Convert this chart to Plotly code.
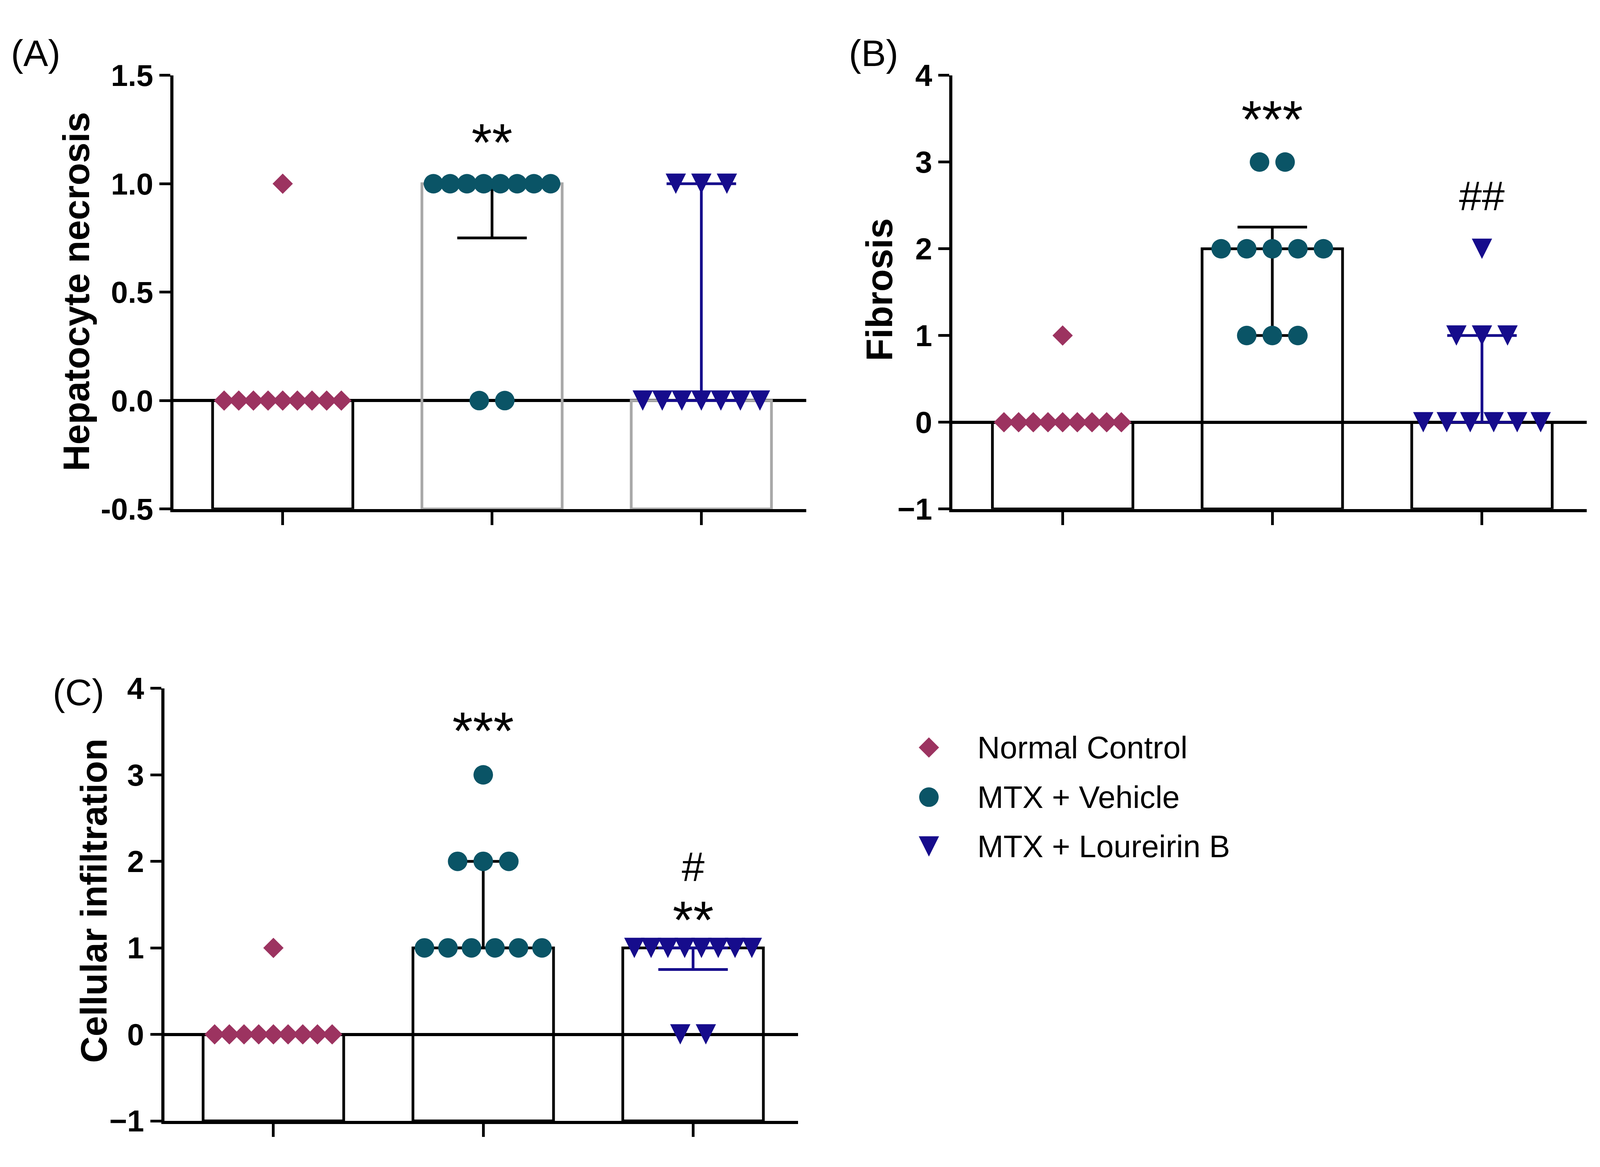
import plotly.graph_objects as go

# groups, colours and marker shapes (GraphPad-style column scatter over median bars)
groups = ["Normal Control", "MTX + Vehicle", "MTX + Loureirin B"]
group_colors = ["#9C3360", "#0A5466", "#160C8C"]
group_symbols = ["diamond", "circle", "arrow-down"]
group_sizes = [40, 50, 52]
group_standoff = [0, 0, 26]   # centres the arrow-shaped triangle on its value
err_colors = ["black", "black", "#160C8C"]

# (A) hepatocyte necrosis scores, n=10 per group
necrosis_normal = [1, 0, 0, 0, 0, 0, 0, 0, 0, 0]
necrosis_vehicle = [1, 1, 1, 1, 1, 1, 1, 1, 0, 0]
necrosis_lour = [1, 1, 1, 0, 0, 0, 0, 0, 0, 0]
necrosis_median = [0, 1, 0]
necrosis_q1 = [0, 0.75, 0]
necrosis_q3 = [0, 1, 1]

# (B) fibrosis scores
fibrosis_normal = [1, 0, 0, 0, 0, 0, 0, 0, 0, 0]
fibrosis_vehicle = [3, 3, 2, 2, 2, 2, 2, 1, 1, 1]
fibrosis_lour = [2, 1, 1, 1, 0, 0, 0, 0, 0, 0]
fibrosis_median = [0, 2, 0]
fibrosis_q1 = [0, 1, 0]
fibrosis_q3 = [0, 2.25, 1]

# (C) cellular infiltration scores
infil_normal = [1, 0, 0, 0, 0, 0, 0, 0, 0, 0]
infil_vehicle = [3, 2, 2, 2, 1, 1, 1, 1, 1, 1]
infil_lour = [1, 1, 1, 1, 1, 1, 1, 1, 0, 0]
infil_median = [0, 1, 1]
infil_q1 = [0, 1, 0.75]
infil_q3 = [0, 2, 1]

necrosis_ticks = [-0.5, 0.0, 0.5, 1.0, 1.5]
necrosis_ticktext = ["-0.5", "0.0", "0.5", "1.0", "1.5"]
score_ticks = [-1, 0, 1, 2, 3, 4]
score_ticktext = ["\u22121", "0", "1", "2", "3", "4"]

# significance marks: (group index, y, lines of text)
necrosis_marks = [(1, 1.19, ["**"])]
fibrosis_marks = [(1, 3.49, ["***"]), (2, 2.61, ["##"])]
infil_marks = [(1, 3.51, ["***"]), (2, 1.59, ["#", "**"])]

FONT = "Liberation Sans, Arial"

# the browser photographs a 4096-wide area; body margin is 8px
REF_W, REF_H = 4363, 2987
FRAME_W, FRAME_H = 4096, 2987
W, H = FRAME_W - 16, FRAME_H - 16


def px(xr):
    # reference pixel column -> paper x
    return (xr / REF_W * FRAME_W - 8) / W


def py(yr):
    # reference pixel row (from top) -> paper y
    return 1 - (yr / REF_H * FRAME_H - 8) / H


def mark_size(s):
    return 105 if "#" in s else 135


def column_offsets(vals):
    # spread points with the same score side by side, like a GraphPad scatter
    counts = {}
    for v in vals:
        counts[v] = counts.get(v, 0) + 1
    seen = {}
    out = []
    for v in vals:
        k = counts[v]
        i = seen.get(v, 0)
        seen[v] = i + 1
        step = 0.0 if k == 1 else min(0.122, 0.56 / (k - 1))
        out.append((i - (k - 1) / 2) * step)
    return out


fig = go.Figure()

panels = [
    dict(ax="", data=[necrosis_normal, necrosis_vehicle, necrosis_lour],
         med=necrosis_median, q1=necrosis_q1, q3=necrosis_q3, ymin=-0.5, ymax=1.5,
         barlines=["black", "#A8A8A8", "#A8A8A8"], marks=necrosis_marks,
         xdom=[px(473), px(2199)], ydom=[py(1297), py(153)], xr=[-0.522, 2.502],
         tickvals=necrosis_ticks, ticktext=necrosis_ticktext),
    dict(ax="2", data=[fibrosis_normal, fibrosis_vehicle, fibrosis_lour],
         med=fibrosis_median, q1=fibrosis_q1, q3=fibrosis_q3, ymin=-1, ymax=4,
         barlines=["black", "black", "black"], marks=fibrosis_marks,
         xdom=[px(2597), px(4327)], ydom=[py(1297), py(153)], xr=[-0.526, 2.50],
         tickvals=score_ticks, ticktext=score_ticktext),
    dict(ax="3", data=[infil_normal, infil_vehicle, infil_lour],
         med=infil_median, q1=infil_q1, q3=infil_q3, ymin=-1, ymax=4,
         barlines=["black", "black", "black"], marks=infil_marks,
         xdom=[px(448), px(2176)], ydom=[py(2911), py(1770)], xr=[-0.52, 2.50],
         tickvals=score_ticks, ticktext=score_ticktext),
]

annotations = []

for p in panels:
    xa = "x" + p["ax"]
    ya = "y" + p["ax"]

    # median bars, drawn up from the bottom of the axis
    for i in range(3):
        fig.add_trace(go.Bar(
            x=[i], y=[p["med"][i] - p["ymin"]], base=p["ymin"], width=0.67,
            marker=dict(color="rgba(255,255,255,0)",
                        line=dict(color=p["barlines"][i], width=7)),
            xaxis=xa, yaxis=ya, showlegend=False, hoverinfo="skip"))

    # interquartile range whiskers
    for i in range(3):
        if p["q1"][i] == p["q3"][i]:
            continue
        fig.add_trace(go.Scatter(
            x=[i], y=[p["med"][i]], mode="markers",
            marker=dict(size=1, color="rgba(0,0,0,0)"),
            error_y=dict(type="data", symmetric=False,
                         array=[p["q3"][i] - p["med"][i]],
                         arrayminus=[p["med"][i] - p["q1"][i]],
                         color=err_colors[i], thickness=7, width=89),
            xaxis=xa, yaxis=ya, showlegend=False, hoverinfo="skip"))

    # individual animals
    for i, vals in enumerate(p["data"]):
        offs = column_offsets(vals)
        fig.add_trace(go.Scatter(
            x=[i + o for o in offs], y=vals, mode="markers", name=groups[i],
            marker=dict(symbol=group_symbols[i], size=group_sizes[i], opacity=1,
                        standoff=group_standoff[i],
                        color=group_colors[i], line=dict(width=0)),
            xaxis=xa, yaxis=ya, showlegend=False))

    for gi, yv, lines in p["marks"]:
        if len(lines) == 1:
            txt, fsize = lines[0], mark_size(lines[0])
        else:
            # stacked marks as one text so the lines keep a fixed spacing
            txt = "<br>".join('<span style="font-size:%dpx">%s</span>' % (mark_size(s), s)
                              for s in lines)
            fsize = 112
        annotations.append(dict(x=gi, y=yv, xref=xa, yref=ya, text=txt, showarrow=False,
                                xanchor="center", yanchor="middle",
                                font=dict(family=FONT, size=fsize, color="black")))

    yax = dict(domain=p["ydom"], range=[p["ymin"], p["ymax"]], anchor=xa,
               showline=True, linecolor="black", linewidth=8,
               ticks="outside", ticklen=28, tickwidth=7, tickcolor="black",
               tickvals=p["tickvals"], ticktext=["<b>%s</b>" % t for t in p["ticktext"]],
               showgrid=False,
               zeroline=True, zerolinecolor="black", zerolinewidth=8,
               tickfont=dict(family=FONT, size=78, color="black"))
    xax = dict(domain=p["xdom"], range=p["xr"], anchor=ya,
               showline=True, linecolor="black", linewidth=8,
               ticks="outside", ticklen=33, tickwidth=7, tickcolor="black",
               tickvals=[0, 1, 2], ticktext=["", "", ""],
               showgrid=False, zeroline=False)
    fig.update_layout(**{"xaxis" + p["ax"]: xax, "yaxis" + p["ax"]: yax})

# legend drawn by hand (own small axis, clear of the panels) so the symbols keep their size
legend_y = [py(1926), py(2057), py(2187)]
leg_x0, leg_x1 = 0.55, 0.80
leg_y0, leg_y1 = 0.15, 0.45
for i in range(3):
    fig.add_trace(go.Scatter(
        x=[px(2533)], y=[legend_y[i]], mode="markers",
        marker=dict(symbol=group_symbols[i], size=group_sizes[i], color=group_colors[i],
                    standoff=group_standoff[i], opacity=1, line=dict(width=0)),
        xaxis="x4", yaxis="y4", showlegend=False, hoverinfo="skip"))
    annotations.append(dict(x=px(2663), y=legend_y[i], xref="paper", yref="paper",
                            text=groups[i], xanchor="left", yanchor="middle", showarrow=False,
                            font=dict(family=FONT, size=80, color="black")))

# axis titles and panel letters
titles = [("Hepatocyte necrosis", 209, 724),
          ("Fibrosis", 2399, 718),
          ("Cellular infiltration", 256, 2330)]
for txt, xr, yr in titles:
    annotations.append(dict(x=px(xr), y=py(yr), xref="paper", yref="paper",
                            text="<b>%s</b>" % txt, textangle=-90,
                            xanchor="center", yanchor="middle", showarrow=False,
                            font=dict(family=FONT, size=94, color="black")))
for txt, xr, yr in [("(A)", 97, 95), ("(B)", 2382, 95), ("(C)", 214, 1781)]:
    annotations.append(dict(x=px(xr), y=py(yr), xref="paper", yref="paper", text=txt,
                            showarrow=False, xanchor="center", yanchor="middle",
                            font=dict(family=FONT, size=95, color="black")))

fig.update_layout(
    width=W, height=H,
    margin=dict(l=0, r=0, t=0, b=0),
    paper_bgcolor="white", plot_bgcolor="rgba(0,0,0,0)",
    showlegend=False,
    xaxis4=dict(domain=[leg_x0, leg_x1], range=[leg_x0, leg_x1], visible=False, anchor="y4"),
    yaxis4=dict(domain=[leg_y0, leg_y1], range=[leg_y0, leg_y1], visible=False, anchor="x4"),
    annotations=annotations,
)

fig.write_html("out.html")
